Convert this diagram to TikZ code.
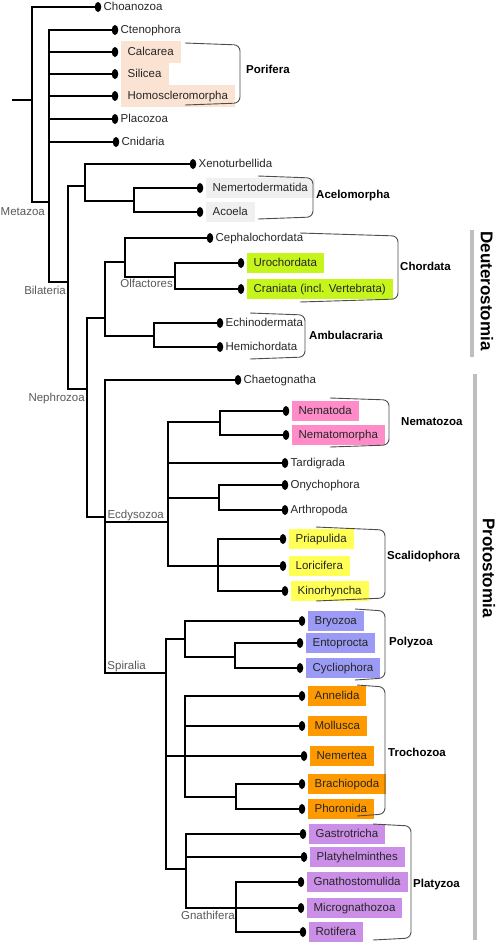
\documentclass[tikz,border=0pt]{standalone}
\usepackage{fontspec}
\setmainfont{Liberation Sans}
\usetikzlibrary{positioning,shapes.geometric}
\definecolor{cporif}{HTML}{FBE3D3}
\definecolor{cacoel}{HTML}{F0F0F0}
\definecolor{cchord}{HTML}{C6F51C}
\definecolor{cnema}{HTML}{FF8CC8}
\definecolor{cscal}{HTML}{FFFF55}
\definecolor{cpoly}{HTML}{9B9BF5}
\definecolor{ctroch}{HTML}{FF9900}
\definecolor{cplat}{HTML}{CC8FE8}
\definecolor{cbar}{HTML}{BEBEBE}
\begin{document}
\begin{tikzpicture}[x=1pt, y=-1pt, font=\fontsize{11.5}{13}\selectfont,
  dot/.style = {ellipse, fill=black, inner sep=0pt, minimum width=6.5pt, minimum height=10pt},
  leaf/.style = {inner sep=0pt, text=black!85, text height=8.5pt, text depth=2.5pt},
  taxon/.style = {fill=#1, inner xsep=7pt, inner ysep=0pt, minimum height=20pt, text=black!85, text height=8.5pt, text depth=2.5pt},
  inlab/.style = {inner sep=0pt, text=black!65},
  edge/.style = {line width=1.3pt},
  brace/.style = {draw=black!70, line width=0.9pt, rounded corners=6pt},
  clade/.style = {inner sep=0pt, anchor=west, font=\fontsize{11.5}{13}\selectfont\bfseries},
  side/.style = {inner sep=0pt, rotate=-90, font=\fontsize{17}{20}\selectfont\bfseries},
  bar/.style = {draw=cbar, line width=4.5pt}]
\useasboundingbox (0,0) rectangle (499,943);

\coordinate (root) at (12,100);
\coordinate (opi) at (32,100);
\coordinate (mz) at (49,202);
\coordinate (bil) at (68,282);
\coordinate (xac) at (85,186);
\coordinate (acm) at (134,201);
\coordinate (nep) at (87,389);
\coordinate (deu) at (105,318);
\coordinate (chd) at (125,262);
\coordinate (olf) at (175,277);
\coordinate (amb) at (154,336);
\coordinate (pro) at (105,517);
\coordinate (ecd) at (168,522);
\coordinate (nmz) at (220,422);
\coordinate (pan) at (219,498);
\coordinate (scl) at (218,566);
\coordinate (spi) at (166,673);
\coordinate (plz) at (185,639);
\coordinate (kam) at (235,657);
\coordinate (tro) at (185,756);
\coordinate (brp) at (236,797);
\coordinate (ptz) at (186,869);
\coordinate (gnf) at (236,908);

\node[dot] (cho) at (98,7) {};
\node[dot] (cte) at (115,30) {};
\node[dot] (cal) at (115,52) {};
\node[dot] (sil) at (115,74) {};
\node[dot] (hom) at (115,96) {};
\node[dot] (pla) at (115,119) {};
\node[dot] (cni) at (116,142) {};
\node[dot] (xen) at (193,164) {};
\node[dot] (nmd) at (200,188) {};
\node[dot] (aco) at (200,212) {};
\node[dot] (cep) at (210,238) {};
\node[dot] (uro) at (241,263) {};
\node[dot] (cra) at (241,289) {};
\node[dot] (ech) at (220,323) {};
\node[dot] (hem) at (220,347) {};
\node[dot] (cha) at (238,380) {};
\node[dot] (ned) at (286,411) {};
\node[dot] (nmo) at (286,435) {};
\node[dot] (tar) at (285,463) {};
\node[dot] (ony) at (285,485) {};
\node[dot] (art) at (285,510) {};
\node[dot] (pri) at (283,539) {};
\node[dot] (lor) at (283,566) {};
\node[dot] (kin) at (285,591) {};
\node[dot] (bry) at (302,621) {};
\node[dot] (ent) at (300,643) {};
\node[dot] (cyc) at (300,668) {};
\node[dot] (ann) at (302,696) {};
\node[dot] (mol) at (302,726) {};
\node[dot] (nem) at (304,756) {};
\node[dot] (bra) at (302,784) {};
\node[dot] (pho) at (302,809) {};
\node[dot] (gas) at (303,834) {};
\node[dot] (plh) at (304,857) {};
\node[dot] (gns) at (301,882) {};
\node[dot] (mic) at (301,908) {};
\node[dot] (rot) at (303,932) {};

\node[leaf, right=2pt of cho] (chol) {Choanozoa};
\node[leaf, right=2pt of cte] (ctel) {Ctenophora};
\node[taxon=cporif, minimum height=22.5pt, right=2pt of cal] (call) {Calcarea};
\node[taxon=cporif, minimum height=22.5pt, right=2pt of sil] (sill) {Silicea};
\node[taxon=cporif, minimum height=22.5pt, right=2pt of hom] (homl) {Homoscleromorpha};
\node[leaf, right=2pt of pla] (plal) {Placozoa};
\node[leaf, right=2pt of cni] (cnil) {Cnidaria};
\node[leaf, right=2pt of xen] (xenl) {Xenoturbellida};
\node[taxon=cacoel, right=2pt of nmd] (nmdl) {Nemertodermatida};
\node[taxon=cacoel, right=2pt of aco] (acol) {Acoela};
\node[leaf, right=2pt of cep] (cepl) {Cephalochordata};
\node[taxon=cchord, right=2pt of uro] (urol) {Urochordata};
\node[taxon=cchord, right=2pt of cra] (cral) {Craniata (incl. Vertebrata)};
\node[leaf, right=2pt of ech] (echl) {Echinodermata};
\node[leaf, right=2pt of hem] (heml) {Hemichordata};
\node[leaf, right=2pt of cha] (chal) {Chaetognatha};
\node[taxon=cnema, right=2pt of ned] (nedl) {Nematoda};
\node[taxon=cnema, right=2pt of nmo] (nmol) {Nematomorpha};
\node[leaf, right=2pt of tar] (tarl) {Tardigrada};
\node[leaf, right=2pt of ony] (onyl) {Onychophora};
\node[leaf, right=2pt of art] (artl) {Arthropoda};
\node[taxon=cscal, right=2pt of pri] (pril) {Priapulida};
\node[taxon=cscal, right=2pt of lor] (lorl) {Loricifera};
\node[taxon=cscal, right=2pt of kin] (kinl) {Kinorhyncha};
\node[taxon=cpoly, right=2pt of bry] (bryl) {Bryozoa};
\node[taxon=cpoly, right=2pt of ent] (entl) {Entoprocta};
\node[taxon=cpoly, right=2pt of cyc] (cycl) {Cycliophora};
\node[taxon=ctroch, right=2pt of ann] (annl) {Annelida};
\node[taxon=ctroch, right=2pt of mol] (moll) {Mollusca};
\node[taxon=ctroch, right=2pt of nem] (neml) {Nemertea};
\node[taxon=ctroch, right=2pt of bra] (bral) {Brachiopoda};
\node[taxon=ctroch, right=2pt of pho] (phol) {Phoronida};
\node[taxon=cplat, right=2pt of gas] (gasl) {Gastrotricha};
\node[taxon=cplat, right=2pt of plh] (plhl) {Platyhelminthes};
\node[taxon=cplat, right=2pt of gns] (gnsl) {Gnathostomulida};
\node[taxon=cplat, right=2pt of mic] (micl) {Micrognathozoa};
\node[taxon=cplat, right=2pt of rot] (rotl) {Rotifera};

\node[inlab, below left=5pt and 4pt of mz] (mzl) {Metazoa};
\node[inlab, below left=4pt and 2pt of bil] (bill) {Bilateria};
\node[inlab, below left=4pt and 2pt of nep] (nepl) {Nephrozoa};
\node[inlab, below left=2pt and 2pt of olf] (olfl) {Olfactores};
\node[inlab, above left=1pt and 4pt of ecd] (ecdl) {Ecdysozoa};
\node[inlab, above left=1pt and 20pt of spi] (spil) {Spiralia};
\node[inlab, below left=3pt and 1pt of gnf] (gnfl) {Gnathifera};

\draw[edge] (root) -- (opi);
\draw[edge] (opi) |- (cho) (opi) |- (mz);
\draw[edge] (mz) |- (cte) (mz) |- (cal) (mz) |- (sil) (mz) |- (hom) (mz) |- (pla) (mz) |- (cni) (mz) |- (bil);
\draw[edge] (bil) |- (xac) (bil) |- (nep);
\draw[edge] (xac) |- (xen) (xac) |- (acm);
\draw[edge] (acm) |- (nmd) (acm) |- (aco);
\draw[edge] (nep) |- (deu) (nep) |- (pro);
\draw[edge] (deu) |- (chd) (deu) |- (amb);
\draw[edge] (chd) |- (cep) (chd) |- (olf);
\draw[edge] (olf) |- (uro) (olf) |- (cra);
\draw[edge] (amb) |- (ech) (amb) |- (hem);
\draw[edge] (pro) |- (cha) (pro) |- (ecd) (pro) |- (spi);
\draw[edge] (ecd) |- (nmz) (ecd) |- (tar) (ecd) |- (pan) (ecd) |- (scl);
\draw[edge] (nmz) |- (ned) (nmz) |- (nmo);
\draw[edge] (pan) |- (ony) (pan) |- (art);
\draw[edge] (scl) |- (pri) (scl) |- (lor) (scl) |- (kin);
\draw[edge] (spi) |- (plz) (spi) |- (tro) (spi) |- (ptz);
\draw[edge] (plz) |- (bry) (plz) |- (kam);
\draw[edge] (kam) |- (ent) (kam) |- (cyc);
\draw[edge] (tro) |- (ann) (tro) |- (mol) (tro) |- (nem) (tro) |- (brp);
\draw[edge] (brp) |- (bra) (brp) |- (pho);
\draw[edge] (ptz) |- (gas) (ptz) |- (plh) (ptz) |- (gnf);
\draw[edge] (gnf) |- (gns) (gnf) |- (mic) (gnf) |- (rot);

\draw[brace] (185,43) -- (240,45) -- (240,103) -- (185,105);
\draw[brace] (258,176) -- (313,178) -- (313,217) -- (258,219);
\draw[brace] (300,233) -- (398,236) -- (398,299) -- (300,302);
\draw[brace] (250,313) -- (305,315) -- (305,357) -- (250,359);
\draw[brace] (330,398) -- (389,400) -- (389,445) -- (330,447);
\draw[brace] (316,527) -- (385,530) -- (385,598) -- (316,601);
\draw[brace] (355,609) -- (385,611) -- (385,678) -- (355,680);
\draw[brace] (357,685) -- (385,687) -- (385,814) -- (357,816);
\draw[brace] (373,824) -- (411,826) -- (411,938) -- (373,940);

\node[clade] (porif) at (246,69) {Porifera};
\node[clade] (acoem) at (316,196) {Acelomorpha};
\node[clade] (chord) at (400,266) {Chordata};
\node[clade] (ambul) at (309,335) {Ambulacraria};
\node[clade] (nemaz) at (401,422) {Nematozoa};
\node[clade] (scali) at (387,557) {Scalidophora};
\node[clade] (polyz) at (389,643) {Polyzoa};
\node[clade] (troch) at (388,752) {Trochozoa};
\node[clade] (platz) at (413,885) {Platyzoa};

\draw[bar] (472,230) -- (472,357);
\draw[bar] (475,374) -- (475,940);
\node[side] (deutl) at (487,291) {Deuterostomia};
\node[side] (protl) at (489,568) {Protostomia};
\end{tikzpicture}
\end{document}
